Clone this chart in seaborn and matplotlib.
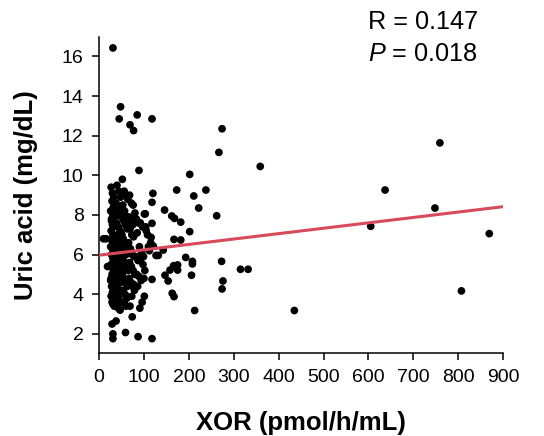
import numpy as np
import pandas as pd
import seaborn as sns
import matplotlib.pyplot as plt

# scattered / outlying points
xor_outer = [31, 48, 45, 85, 69, 77, 118, 274, 267, 359, 759, 89, 202, 637, 748,
             605, 869, 807, 435, 213, 315, 332, 273, 276, 274, 262, 238, 211, 222, 173,
             182, 202, 146, 162, 168, 167, 182, 193, 208, 208, 206, 175, 166, 158, 147,
             154, 163, 167, 175, 143, 132, 127, 118, 118, 87, 59, 31, 31, 38, 29,
             74, 120, 118, 118, 116, 105, 103, 121, 10, 16, 19,
             110, 112, 104, 108, 115]
uric_outer = [16.43, 13.46, 12.85, 13.05, 12.55, 12.26, 12.85, 12.35, 11.16, 10.45, 11.64, 10.25, 10.05, 9.26, 8.35,
              7.43, 7.06, 4.17, 3.18, 3.18, 5.26, 5.26, 5.66, 4.67, 4.27, 7.96, 9.26, 8.96, 8.35, 9.26,
              7.64, 7.16, 8.25, 7.95, 7.83, 6.77, 6.74, 5.86, 5.66, 5.53, 4.96, 5.48, 5.44, 5.22, 4.96,
              4.67, 4.05, 3.88, 5.22, 6.23, 5.96, 5.96, 4.75, 1.76, 1.86, 2.07, 1.76, 2.0, 2.65, 2.5,
              2.86, 9.09, 8.64, 7.58, 6.87, 7.21, 8.06, 6.43, 6.8, 6.8, 5.4,
              6.4, 6.2, 7.4, 7.0, 6.6]

# dense cluster at low XOR
xor_a = [27, 30, 33, 29, 32, 26, 31, 34, 28, 30, 33, 27, 31, 35, 29, 32, 26, 30, 34, 28, 31,
         33, 27, 30, 32, 29, 34, 26, 31, 28, 33, 30, 27, 32, 29, 31, 34, 28, 30, 33, 27, 31]
uric_a = [9.4, 9.1, 8.9, 8.7, 8.4, 8.2, 8.0, 7.9, 7.7, 7.5, 7.4, 7.2, 7.0, 6.9, 6.7, 6.6, 6.4, 6.3, 6.1, 6.0, 5.8,
          5.7, 5.5, 5.4, 5.2, 5.0, 4.9, 4.7, 4.6, 4.4, 4.2, 4.1, 3.9, 3.8, 3.6, 3.5, 3.4, 7.8, 6.8, 5.9, 4.8, 4.0]

xor_b = [40, 44, 48, 38, 42, 46, 50, 39, 43, 47, 41, 45, 49, 38, 42, 46, 40, 44, 48, 39, 43,
         47, 41, 45, 49, 38, 42, 46, 40, 44, 48, 39, 43, 47, 41, 45, 49, 38, 42, 46, 44, 40]
uric_b = [9.5, 9.2, 8.9, 8.6, 8.3, 8.1, 7.9, 7.6, 7.4, 7.2, 7.0, 6.8, 6.6, 6.5, 6.3, 6.1, 5.9, 5.8, 5.6, 5.4, 5.3,
          5.1, 4.9, 4.8, 4.6, 4.4, 4.3, 4.1, 3.9, 3.8, 3.6, 3.5, 3.3, 3.2, 5.0, 6.0, 7.1, 8.0, 4.5, 5.5, 6.9, 3.7]

xor_c = [52, 56, 60, 64, 53, 57, 61, 55, 59, 63, 51, 54, 58, 62, 56, 60,
         53, 57, 61, 65, 52, 55, 59, 63, 54, 58, 62, 56, 60, 53, 57, 61]
uric_c = [9.8, 9.2, 9.0, 8.8, 8.5, 8.2, 7.9, 7.7, 7.5, 7.3, 7.0, 6.8, 6.6, 6.4, 6.2, 6.0,
          5.8, 5.6, 5.4, 5.2, 5.0, 4.8, 4.6, 4.4, 4.2, 4.0, 3.8, 3.6, 3.4, 6.5, 5.3, 4.7]

xor_d = [68, 72, 76, 80, 67, 71, 75, 79, 69, 73, 77, 66, 70,
         74, 78, 68, 72, 76, 80, 67, 71, 75, 79, 69, 73, 77]
uric_d = [9.0, 8.6, 8.5, 8.1, 7.9, 7.7, 7.5, 7.8, 7.3, 7.0, 6.9, 6.6, 6.3,
          6.0, 5.9, 5.6, 5.4, 5.2, 5.0, 4.8, 4.6, 4.4, 4.2, 3.4, 3.9, 4.5]

xor_e = [83, 88, 92, 97, 101, 85, 90, 95, 99, 82, 87, 93, 98, 102, 84, 89, 94, 100, 86, 91, 96, 101]
uric_e = [7.8, 7.6, 7.6, 7.4, 8.05, 7.1, 6.4, 6.1, 5.9, 5.9, 5.7, 5.8, 5.5, 5.2, 5.0, 4.9, 4.7, 4.8, 4.4, 3.3, 3.6, 3.9]

# regression line end points
fit_x = [0, 900]
fit_y = [5.97, 8.42]

x_ticks = [0, 100, 200, 300, 400, 500, 600, 700, 800, 900]
y_ticks = [2, 4, 6, 8, 10, 12, 14, 16]

df = pd.DataFrame({
    "xor": xor_outer + xor_a + xor_b + xor_c + xor_d + xor_e,
    "uric": uric_outer + uric_a + uric_b + uric_c + uric_d + uric_e,
})
fit = pd.DataFrame({"xor": fit_x, "uric": fit_y})

sns.set_style("ticks")
plt.rcParams["font.family"] = ["Liberation Sans", "DejaVu Sans"]
plt.rcParams["mathtext.fontset"] = "custom"
plt.rcParams["mathtext.rm"] = "Liberation Sans"
plt.rcParams["mathtext.it"] = "Liberation Sans:italic"
plt.rcParams["text.color"] = "black"
plt.rcParams["axes.labelcolor"] = "black"
plt.rcParams["xtick.color"] = "black"
plt.rcParams["ytick.color"] = "black"

fig = plt.figure(figsize=(5.44, 4.36), dpi=100)
ax = fig.add_axes([0.182, 0.191, 0.743, 0.725])

sns.scatterplot(data=df, x="xor", y="uric", ax=ax, color="black", s=31,
                edgecolor="none", linewidth=0, zorder=2)
sns.lineplot(data=fit, x="xor", y="uric", ax=ax, color="#d84a5b", linewidth=2.2, zorder=3)

ax.set_xlim(0, 900)
ax.set_ylim(1.05, 17)
ax.set_xticks(x_ticks)
ax.set_yticks(y_ticks)
ax.tick_params(axis="both", labelsize=14, length=5, width=1.1, colors="black", direction="out")
ax.tick_params(axis="x", pad=7)
ax.tick_params(axis="y", pad=6)
sns.despine(ax=ax)
for sp in ["left", "bottom"]:
    ax.spines[sp].set_linewidth(1.1)
    ax.spines[sp].set_color("black")

ax.set_xlabel("XOR (pmol/h/mL)", fontsize=18.5, fontweight="bold", labelpad=18, color="black")
ax.set_ylabel("Uric acid (mg/dL)", fontsize=18.5, fontweight="bold", labelpad=17, color="black")

fig.text(0.676, 0.933, "R = 0.147", fontsize=18.2, ha="left", va="baseline", color="black")
fig.text(0.676, 0.860, r"$\it{P}$ = 0.018", fontsize=18.2, ha="left", va="baseline", color="black")

fig.savefig("out.png", dpi=100)
